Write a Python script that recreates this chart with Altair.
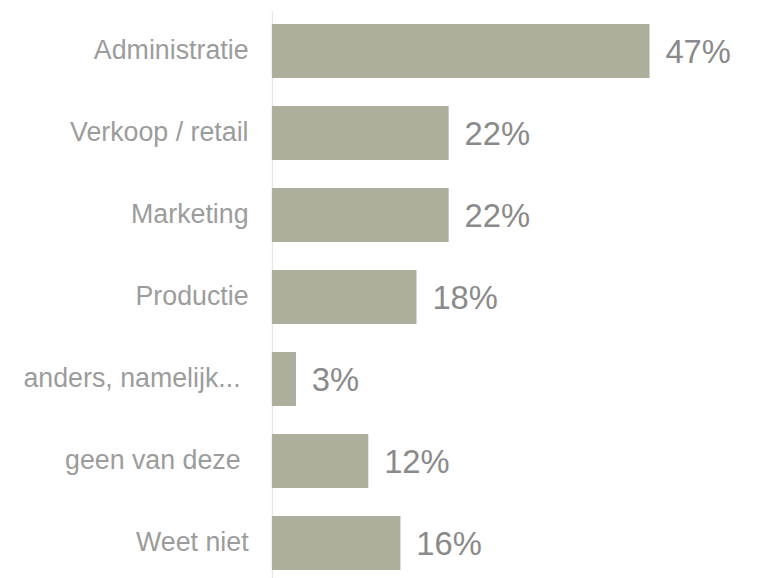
import altair as alt
import pandas as pd

categories = ["Administratie", "Verkoop / retail", "Marketing", "Productie",
              "anders, namelijk...", "geen van deze", "Weet niet"]
values = [47, 22, 22, 18, 3, 12, 16]
labels = ["47%", "22%", "22%", "18%", "3%", "12%", "16%"]

df = pd.DataFrame({"cat": categories, "val": values, "lab": labels})

y = alt.Y("cat:N", sort=categories, title=None,
          scale=alt.Scale(paddingInner=0.34, paddingOuter=0.166),
          axis=alt.Axis(ticks=False, labelFontSize=27, labelColor="#9c9c9c",
                        labelFont="Liberation Sans",
                        labelPadding=alt.ExprRef(
                            "(datum.value == 'anders, namelijk...' || datum.value == 'geen van deze') ? 32 : 24"),
                        domainColor="#e3e3e3", domainWidth=1, labelLimit=300))
x = alt.X("val:Q", scale=alt.Scale(domain=[0, 50]), axis=None)

bars = alt.Chart(df).mark_bar(color="#ADAE9C").encode(x=x, y=y)
text = alt.Chart(df).mark_text(align="left", baseline="middle", dx=16, dy=2,
                               fontSize=33, color="#8a8a8a",
                               font="Liberation Sans").encode(x=x, y=y, text="lab:N")

chart = (bars + text).properties(
    width=405, height=578, autosize="none",
    padding={"left": 266, "top": 0, "right": 80, "bottom": 0},
).configure_view(stroke=None)

chart.save("out.html", embed_options={"renderer": "svg", "actions": False})
